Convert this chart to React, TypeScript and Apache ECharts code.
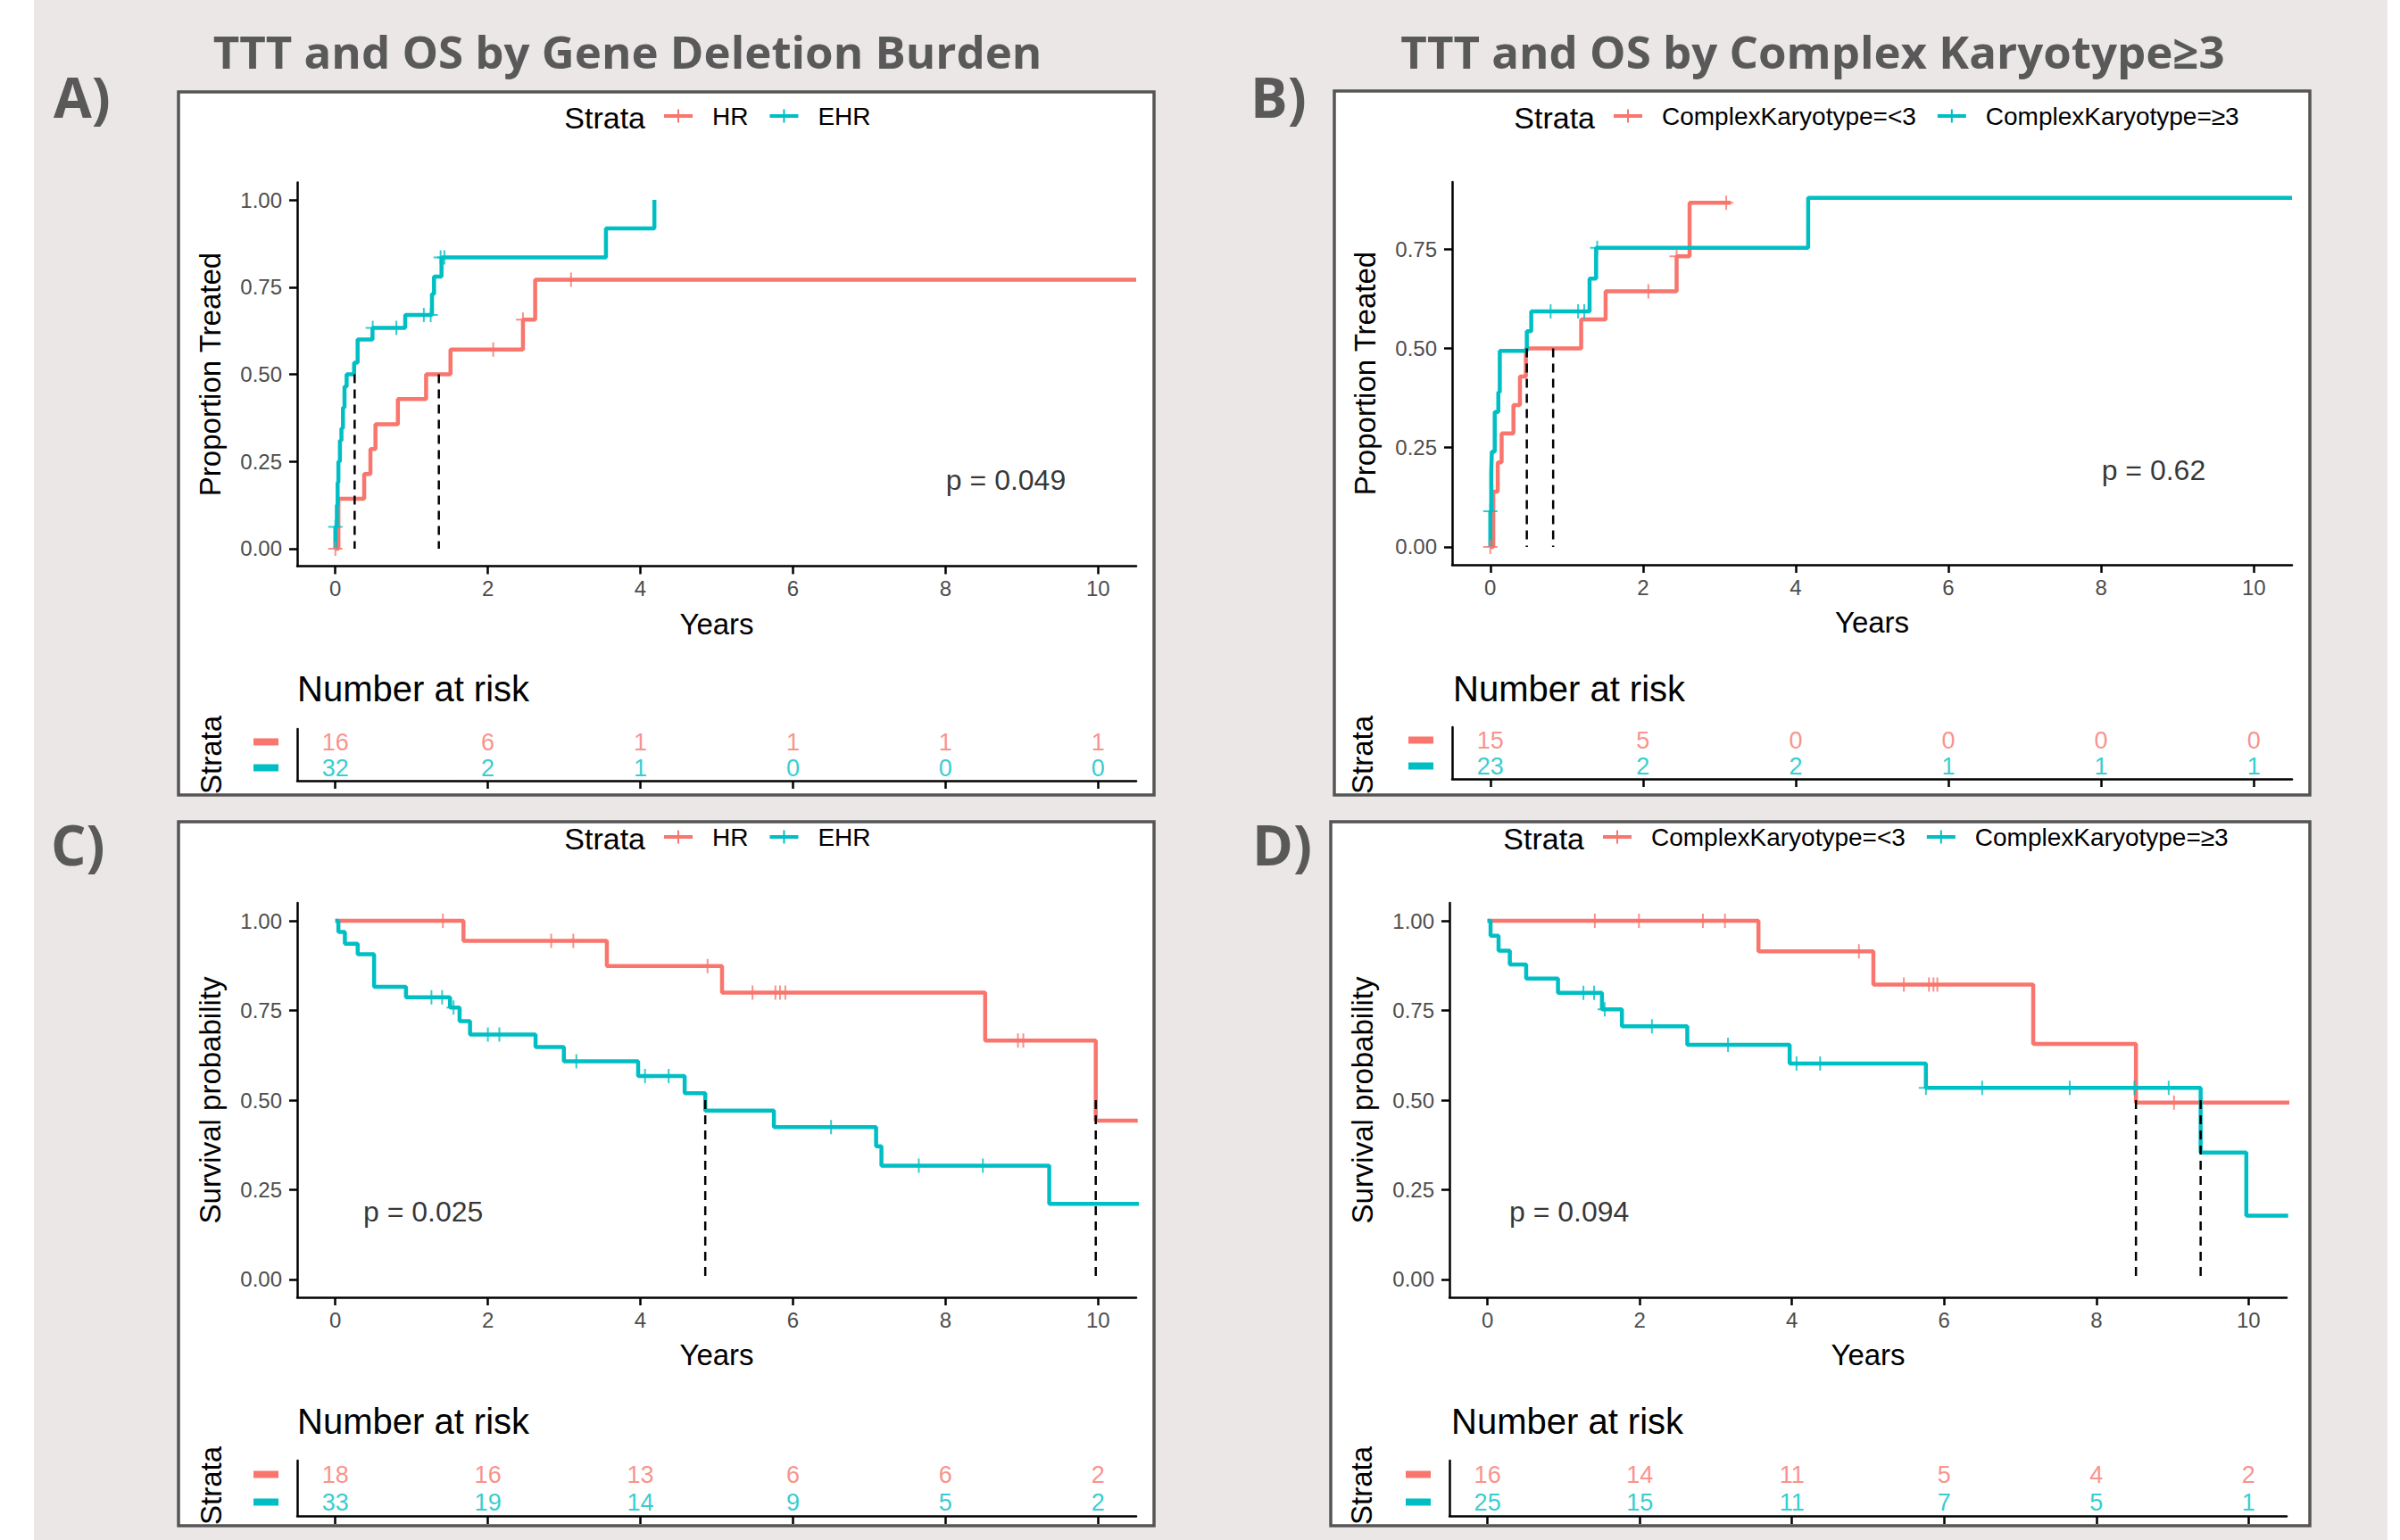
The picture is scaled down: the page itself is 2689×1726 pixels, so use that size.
import React, { useEffect, useRef } from "react";
import * as echarts from "echarts";

const RED = "#F8766D";
const TEAL = "#00BFC4";
const FONT = "'Liberation Sans', Arial, Helvetica, sans-serif";
const TITLE_FONT = "'Open Sans', 'DejaVu Sans', sans-serif";

// ---------- DATA ----------
const pageTitles = ["TTT and OS by Gene Deletion Burden", "TTT and OS by Complex Karyotype≥3"];
const panelLetters = ["A)", "B)", "C)", "D)"];
const xTickValues = [0, 2, 4, 6, 8, 10];
const riskTimes = [0, 2, 4, 6, 8, 10];
const yTicksFull = [0, 0.25, 0.5, 0.75, 1];
const yTicksB = [0, 0.25, 0.5, 0.75];
const xTitle = "Years";
const riskTitle = "Number at risk";
const legendTitle = "Strata";

// Panel A: time to treatment, gene deletion burden
const aStrata = ["HR", "EHR"];
const aYTitle = "Proportion Treated";
const aCurveHR = [[0, 0], [0.04, 0.143], [0.378, 0.214], [0.46, 0.286], [0.526, 0.357], [0.82, 0.429], [1.19, 0.5], [1.51, 0.571], [2.46, 0.657], [2.62, 0.771], [10.5, 0.771]];
const aCensorHR = [[0, 0], [2.07, 0.571], [2.46, 0.657], [3.09, 0.771]];
const aCurveEHR = [[0, 0], [0, 0.0625], [0.02, 0.125], [0.03, 0.19], [0.04, 0.25], [0.06, 0.31], [0.08, 0.345], [0.1, 0.405], [0.12, 0.465], [0.148, 0.5], [0.246, 0.533], [0.292, 0.6], [0.487, 0.633], [0.916, 0.67], [1.267, 0.73], [1.294, 0.78], [1.392, 0.835], [3.548, 0.918], [4.183, 1.0]];
const aCensorEHR = [[0, 0.0625], [0.49, 0.633], [0.8, 0.633], [1.16, 0.67], [1.25, 0.67], [1.38, 0.835], [1.43, 0.835]];
const aMedians = [0.253, 1.357];
const aRiskHR = [16, 6, 1, 1, 1, 1];
const aRiskEHR = [32, 2, 1, 0, 0, 0];
const aPValue = "p = 0.049";
const aPValueAt = [8.0, 0.197];

// Panel B: time to treatment, complex karyotype
const bStrata = ["ComplexKaryotype=<3", "ComplexKaryotype=≥3"];
const bYTitle = "Proportion Treated";
const bCurveLow = [[0, 0], [0.039, 0.139], [0.097, 0.213], [0.148, 0.286], [0.303, 0.357], [0.388, 0.429], [0.466, 0.5], [1.19, 0.573], [1.51, 0.644], [2.44, 0.732], [2.61, 0.867], [3.15, 0.867]];
const bCensorLow = [[0, 0], [2.07, 0.644], [2.44, 0.732], [3.09, 0.867]];
const bCurveHigh = [[0, 0], [0, 0.09], [0.012, 0.187], [0.02, 0.24], [0.058, 0.34], [0.105, 0.39], [0.124, 0.494], [0.478, 0.543], [0.536, 0.593], [1.3, 0.676], [1.386, 0.753], [4.163, 0.879], [10.5, 0.879]];
const bCensorHigh = [[0, 0.09], [0.79, 0.593], [1.15, 0.593], [1.23, 0.593], [1.4, 0.753]];
const bMedians = [0.478, 0.823];
const bRiskLow = [15, 5, 0, 0, 0, 0];
const bRiskHigh = [23, 2, 2, 1, 1, 1];
const bPValue = "p = 0.62";
const bPValueAt = [8.0, 0.193];

// Panel C: overall survival, gene deletion burden
const cStrata = ["HR", "EHR"];
const cYTitle = "Survival probability";
const cCurveHR = [[0, 1], [1.68, 0.944], [3.56, 0.874], [5.07, 0.8], [8.52, 0.666], [9.97, 0.443], [10.52, 0.443]];
const cCensorHR = [[1.41, 1], [2.83, 0.944], [3.12, 0.944], [4.88, 0.874], [5.47, 0.8], [5.77, 0.8], [5.83, 0.8], [5.9, 0.8], [8.95, 0.666], [9.02, 0.666]];
const cCurveEHR = [[0, 1], [0.04, 0.969], [0.125, 0.936], [0.293, 0.907], [0.508, 0.816], [0.926, 0.787], [1.504, 0.758], [1.629, 0.72], [1.766, 0.683], [2.625, 0.648], [2.996, 0.608], [3.97, 0.567], [4.58, 0.519], [4.85, 0.471], [5.75, 0.425], [7.09, 0.371], [7.16, 0.317], [9.36, 0.211], [10.54, 0.211]];
const cCensorEHR = [[1.26, 0.787], [1.4, 0.787], [1.55, 0.758], [2.0, 0.683], [2.15, 0.683], [3.16, 0.608], [4.06, 0.567], [4.37, 0.567], [6.5, 0.425], [7.65, 0.317], [8.49, 0.317], [10.54, 0.211]];
const cMedians = [4.85, 9.97];
const cRiskHR = [18, 16, 13, 6, 6, 2];
const cRiskEHR = [33, 19, 14, 9, 5, 2];
const cPValue = "p = 0.025";
const cPValueAt = [0.36, 0.19];

// Panel D: overall survival, complex karyotype
const dStrata = ["ComplexKaryotype=<3", "ComplexKaryotype=≥3"];
const dYTitle = "Survival probability";
const dCurveLow = [[0, 1], [3.56, 0.915], [5.07, 0.822], [7.17, 0.657], [8.52, 0.493], [10.54, 0.493]];
const dCensorLow = [[1.41, 1], [1.99, 1], [2.83, 1], [3.12, 1], [4.88, 0.915], [5.47, 0.822], [5.8, 0.822], [5.86, 0.822], [5.91, 0.822], [9.02, 0.493], [10.54, 0.493]];
const dCurveHigh = [[0, 1], [0.04, 0.9585], [0.145, 0.917], [0.293, 0.878], [0.508, 0.839], [0.926, 0.799], [1.504, 0.7535], [1.766, 0.706], [2.625, 0.654], [3.97, 0.602], [5.76, 0.5345], [9.37, 0.354], [9.97, 0.178], [10.52, 0.178]];
const dCensorHigh = [[1.26, 0.799], [1.4, 0.799], [1.54, 0.7535], [2.16, 0.706], [3.16, 0.654], [4.06, 0.602], [4.37, 0.602], [5.76, 0.5345], [6.5, 0.5345], [7.65, 0.5345], [8.5, 0.5345], [8.95, 0.5345]];
const dMedians = [8.52, 9.37];
const dRiskLow = [16, 14, 11, 5, 4, 2];
const dRiskHigh = [25, 15, 11, 7, 5, 1];
const dPValue = "p = 0.094";
const dPValueAt = [0.28, 0.19];

// ---------- LAYOUT (pixels) ----------
const panels = [
  {
    letter: panelLetters[0], strata: aStrata, yTitle: aYTitle,
    redCurve: aCurveHR, redCensor: aCensorHR, tealCurve: aCurveEHR, tealCensor: aCensorEHR,
    medians: aMedians, riskRed: aRiskHR, riskTeal: aRiskEHR, pValue: aPValue, pValueAt: aPValueAt,
    yMin: -0.05, yMax: 1.05, yTicks: yTicksFull,
    box: [200, 103, 1093, 788], main: [333, 204.5, 940, 430], risk: [333, 817, 940, 58],
    legendLeft: 744, legendY: 132, letterPos: [60, 108], nrPos: [333, 772], strataPos: [236, 846],
  },
  {
    letter: panelLetters[1], strata: bStrata, yTitle: bYTitle,
    redCurve: bCurveLow, redCensor: bCensorLow, tealCurve: bCurveHigh, tealCensor: bCensorHigh,
    medians: bMedians, riskRed: bRiskLow, riskTeal: bRiskHigh, pValue: bPValue, pValueAt: bPValueAt,
    yMin: -0.045, yMax: 0.919, yTicks: yTicksB,
    box: [1495, 102, 1093, 789], main: [1627, 204, 941, 429], risk: [1627, 815, 941, 58],
    legendLeft: 1808, legendY: 132, letterPos: [1401, 108], nrPos: [1628, 772], strataPos: [1526, 846],
  },
  {
    letter: panelLetters[2], strata: cStrata, yTitle: cYTitle,
    redCurve: cCurveHR, redCensor: cCensorHR, tealCurve: cCurveEHR, tealCensor: cCensorEHR,
    medians: cMedians, riskRed: cRiskHR, riskTeal: cRiskEHR, pValue: cPValue, pValueAt: cPValueAt,
    yMin: -0.05, yMax: 1.05, yTicks: yTicksFull,
    box: [200, 921, 1093, 789], main: [333, 1012, 940, 442], risk: [333, 1637, 940, 62],
    legendLeft: 744, legendY: 940, letterPos: [57, 946], nrPos: [333, 1593], strataPos: [236, 1665],
  },
  {
    letter: panelLetters[3], strata: dStrata, yTitle: dYTitle,
    redCurve: dCurveLow, redCensor: dCensorLow, tealCurve: dCurveHigh, tealCensor: dCensorHigh,
    medians: dMedians, riskRed: dRiskLow, riskTeal: dRiskHigh, pValue: dPValue, pValueAt: dPValueAt,
    yMin: -0.05, yMax: 1.05, yTicks: yTicksFull,
    box: [1491, 921, 1097, 789], main: [1624, 1012, 938, 442], risk: [1624, 1637, 938, 62],
    legendLeft: 1796, legendY: 940, letterPos: [1403, 946], nrPos: [1626, 1593], strataPos: [1525, 1665],
  },
];

const CENSOR_SYMBOL = "path://M-1,-8L1,-8L1,8L-1,8Z M-8,-1L8,-1L8,1L-8,1Z";
const LEGEND_ICON = "path://M0,5.5L32,5.5L32,9.5L0,9.5Z M15,0L17,0L17,15L15,15Z";
const AXIS_LINE = { show: true, onZero: false, lineStyle: { color: "#000", width: 2.5 } };
const TICK_TEXT = { fontSize: 24, color: "#4D4D4D", fontFamily: FONT };

function buildOption() {
  const grid: any[] = [];
  const xAxis: any[] = [];
  const yAxis: any[] = [];
  const series: any[] = [];
  const legend: any[] = [];
  const graphic: any[] = [];

  graphic.push({ type: "rect", z: -20, shape: { x: 38, y: 0, width: 2637, height: 1726 }, style: { fill: "#ECE7E7" } });
  graphic.push({ type: "text", z: 10, x: 703, y: 57, style: { text: pageTitles[0], font: `bold 51px ${TITLE_FONT}`, fill: "#595959", textAlign: "center", textVerticalAlign: "middle" } });
  graphic.push({ type: "text", z: 10, x: 2031, y: 57, style: { text: pageTitles[1], font: `bold 51px ${TITLE_FONT}`, fill: "#595959", textAlign: "center", textVerticalAlign: "middle" } });

  panels.forEach((p, i) => {
    const gm = 2 * i;
    const gr = 2 * i + 1;
    const [bx, by, bw, bh] = p.box;
    graphic.push({ type: "rect", z: -10, shape: { x: bx, y: by, width: bw, height: bh }, style: { fill: "#FFFFFF", stroke: "#555555", lineWidth: 3.5 } });
    graphic.push({ type: "text", z: 10, x: p.letterPos[0], y: p.letterPos[1], style: { text: p.letter, font: `bold 62px ${TITLE_FONT}`, fill: "#595959", textAlign: "left", textVerticalAlign: "middle" } });
    graphic.push({ type: "text", z: 10, x: p.legendLeft - 21, y: p.legendY, style: { text: legendTitle, font: `34px ${FONT}`, fill: "#000", textAlign: "right", textVerticalAlign: "middle" } });
    graphic.push({ type: "text", z: 10, x: p.nrPos[0], y: p.nrPos[1], style: { text: riskTitle, font: `40px ${FONT}`, fill: "#000", textAlign: "left", textVerticalAlign: "middle" } });
    graphic.push({ type: "text", z: 10, x: p.strataPos[0], y: p.strataPos[1], rotation: Math.PI / 2, style: { text: legendTitle, font: `33px ${FONT}`, fill: "#000", textAlign: "center", textVerticalAlign: "middle" } });

    grid.push({ left: p.main[0], top: p.main[1], width: p.main[2], height: p.main[3], containLabel: false });
    grid.push({ left: p.risk[0], top: p.risk[1], width: p.risk[2], height: p.risk[3], containLabel: false });

    xAxis.push({
      type: "value", gridIndex: gm, min: -0.5, max: 10.5,
      axisLine: AXIS_LINE,
      axisTick: { show: true, customValues: xTickValues, length: 9, lineStyle: { color: "#000", width: 2.5 } },
      axisLabel: { show: true, customValues: xTickValues, margin: 13, ...TICK_TEXT },
      splitLine: { show: false },
      name: xTitle, nameLocation: "middle", nameGap: 48,
      nameTextStyle: { fontSize: 33, color: "#000", fontFamily: FONT },
    });
    yAxis.push({
      type: "value", gridIndex: gm, min: p.yMin, max: p.yMax,
      axisLine: AXIS_LINE,
      axisTick: { show: true, customValues: p.yTicks, length: 9, lineStyle: { color: "#000", width: 2.5 } },
      axisLabel: { show: true, customValues: p.yTicks, margin: 17, formatter: (v: number) => v.toFixed(2), ...TICK_TEXT },
      splitLine: { show: false },
      name: p.yTitle, nameLocation: "middle", nameGap: 81,
      nameTextStyle: { fontSize: 33, color: "#000", fontFamily: FONT },
    });
    xAxis.push({
      type: "value", gridIndex: gr, min: -0.5, max: 10.5,
      axisLine: AXIS_LINE,
      axisTick: { show: true, customValues: riskTimes, length: 9, lineStyle: { color: "#000", width: 2.5 } },
      axisLabel: { show: false },
      splitLine: { show: false },
    });
    yAxis.push({
      type: "category", gridIndex: gr, data: [p.strata[1], p.strata[0]],
      axisLine: AXIS_LINE,
      axisTick: { show: false },
      axisLabel: {
        show: true, margin: 21,
        formatter: (v: string) => (v === p.strata[0] ? "{r| }" : "{t| }"),
        rich: {
          r: { backgroundColor: RED, width: 28, height: 8, fontSize: 4 },
          t: { backgroundColor: TEAL, width: 28, height: 8, fontSize: 4 },
        },
      },
      splitLine: { show: false },
    });

    legend.push({
      data: [p.strata[0], p.strata[1]], left: p.legendLeft, top: p.legendY - 16, orient: "horizontal",
      itemWidth: 32, itemHeight: 15, itemGap: 24, icon: LEGEND_ICON, padding: 0, selectedMode: false,
      textStyle: { fontSize: 28, color: "#000", fontFamily: FONT, padding: [0, 0, 0, 17] },
    });

    const curves: [string, any[], any[], string][] = [
      [p.strata[0], p.redCurve, p.redCensor, RED],
      [p.strata[1], p.tealCurve, p.tealCensor, TEAL],
    ];
    curves.forEach(([name, curve, censor, color]) => {
      series.push({
        type: "line", name, xAxisIndex: gm, yAxisIndex: gm, data: curve, step: "end",
        showSymbol: false, symbol: "none", color, z: 3,
        lineStyle: { width: 4.5, color }, itemStyle: { color },
      });
      series.push({
        type: "scatter", name: name + " censored", xAxisIndex: gm, yAxisIndex: gm, data: censor,
        symbol: CENSOR_SYMBOL, symbolSize: 16, itemStyle: { color }, z: 4,
      });
    });
    p.medians.forEach((m, k) => {
      series.push({
        type: "line", name: `median ${i}-${k}`, xAxisIndex: gm, yAxisIndex: gm,
        data: [[m, 0.5], [m, 0]], showSymbol: false, symbol: "none", z: 5,
        lineStyle: { color: "#000", width: 2.5, type: [10, 7] },
      });
    });
    series.push({
      type: "scatter", name: `pval ${i}`, xAxisIndex: gm, yAxisIndex: gm, data: [p.pValueAt],
      symbolSize: 1, itemStyle: { color: "rgba(0,0,0,0)" },
      label: { show: true, position: "right", distance: 0, formatter: p.pValue, fontSize: 32, color: "#000", fontFamily: FONT },
    });
    const risks: [number[], number, string][] = [[p.riskRed, 1, RED], [p.riskTeal, 0, TEAL]];
    risks.forEach(([vals, row, color], k) => {
      series.push({
        type: "scatter", name: `risk ${i}-${k}`, xAxisIndex: gr, yAxisIndex: gr,
        data: riskTimes.map((t, j) => [t, row, vals[j]]),
        symbolSize: 1, itemStyle: { color: "rgba(0,0,0,0)" },
        label: { show: true, position: "inside", formatter: (pp: any) => String(pp.value[2]), fontSize: 27, color, fontFamily: FONT },
      });
    });
  });

  return { animation: false, backgroundColor: "#FFFFFF", grid, xAxis, yAxis, series, legend, graphic };
}

export default function App() {
  const ref = useRef<HTMLDivElement>(null);
  useEffect(() => {
    if (!ref.current) return;
    const chart = echarts.init(ref.current, null, { renderer: "svg" });
    chart.setOption(buildOption() as any);
    return () => chart.dispose();
  }, []);
  return <div ref={ref} style={{ position: "absolute", left: 0, top: 0, width: 2689, height: 1726 }} />;
}
